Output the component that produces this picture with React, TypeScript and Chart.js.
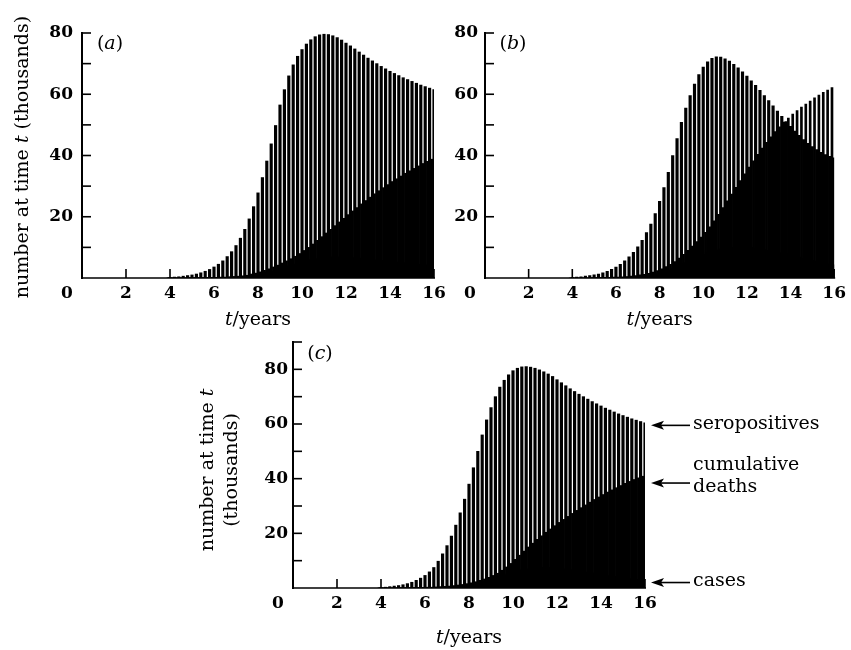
import React, { useEffect, useRef } from "react";
import { Chart, registerables } from "chart.js";

Chart.register(...registerables);

// ---------- data ----------
const YEARS = [
  4.0, 4.2, 4.4, 4.6, 4.8, 5.0, 5.2, 5.4, 5.6, 5.8,
  6.0, 6.2, 6.4, 6.6, 6.8, 7.0, 7.2, 7.4, 7.6, 7.8,
  8.0, 8.2, 8.4, 8.6, 8.8, 9.0, 9.2, 9.4, 9.6, 9.8,
  10.0, 10.2, 10.4, 10.6, 10.8, 11.0, 11.2, 11.4, 11.6, 11.8,
  12.0, 12.2, 12.4, 12.6, 12.8, 13.0, 13.2, 13.4, 13.6, 13.8,
  14.0, 14.2, 14.4, 14.6, 14.8, 15.0, 15.2, 15.4, 15.6, 15.8,
  16.0,
];

const X_TICK_LABELS = ["0", "2", "4", "6", "8", "10", "12", "14", "16"];
const Y_TICK_LABELS = ["20", "40", "60", "80"];

const SERO_A = [
  0.2, 0.3, 0.4, 0.6, 0.8, 1.0, 1.3, 1.7, 2.2, 2.8,
  3.6, 4.5, 5.6, 7.0, 8.6, 10.6, 13.0, 15.9, 19.3, 23.3,
  27.8, 32.8, 38.2, 43.8, 49.8, 56.5, 61.5, 66.0, 69.6, 72.4,
  74.6, 76.4, 77.8, 78.8, 79.4, 79.6, 79.5, 79.1, 78.5, 77.7,
  76.7, 75.8, 74.8, 73.8, 72.8, 71.8, 70.9, 70.0, 69.1, 68.3,
  67.5, 66.8, 66.1, 65.4, 64.8, 64.2, 63.6, 63.0, 62.5, 62.0,
  61.5,
];
const DEATHS_A = [
  0, 0, 0, 0, 0, 0.1, 0.1, 0.1, 0.1, 0.2,
  0.2, 0.2, 0.3, 0.3, 0.4, 0.5, 0.6, 0.7, 0.9, 1.3,
  1.6, 2.0, 2.5, 3.0, 3.6, 4.2, 4.9, 5.6, 6.3, 7.1,
  8.0, 9.0, 10.0, 11.1, 12.3, 13.5, 14.7, 15.9, 17.1, 18.3,
  19.5, 20.7, 21.9, 23.0, 24.2, 25.3, 26.4, 27.5, 28.5, 29.5,
  30.5, 31.5, 32.4, 33.3, 34.2, 35.0, 35.8, 36.6, 37.4, 38.1,
  38.8,
];
const CASES_A = [
  0, 0, 0, 0, 0, 0, 0, 0, 0.1, 0.1,
  0.1, 0.1, 0.2, 0.2, 0.3, 0.4, 0.5, 0.6, 0.8, 1.0,
  1.2, 1.5, 1.8, 2.2, 2.6, 3.0, 3.5, 4.0, 4.4, 4.9,
  5.3, 5.7, 6.0, 6.3, 6.5, 6.7, 6.8, 6.9, 6.9, 6.9,
  6.8, 6.7, 6.6, 6.5, 6.3, 6.2, 6.0, 5.9, 5.7, 5.6,
  5.4, 5.3, 5.1, 5.0, 4.8, 4.7, 4.5, 4.4, 4.3, 4.1,
  4.0,
];

const SERO_B = [
  0.2, 0.3, 0.4, 0.6, 0.8, 1.0, 1.3, 1.7, 2.2, 2.8,
  3.6, 4.5, 5.6, 6.9, 8.4, 10.2, 12.3, 14.8, 17.6, 21.0,
  25.0, 29.5, 34.5, 40.0, 45.5, 50.8, 55.5, 59.6, 63.3, 66.4,
  68.9, 70.6, 71.7, 72.2, 72.1, 71.6, 70.8, 69.8, 68.6, 67.3,
  65.9, 64.4, 62.9, 61.3, 59.6, 57.9, 56.2, 54.5, 52.8, 51.1,
  49.5, 48.0, 46.6, 45.2, 44.0, 42.9, 41.9, 41.0, 40.3, 39.7,
  39.2,
];
const DEATHS_B = [
  0, 0, 0, 0, 0, 0.1, 0.1, 0.1, 0.2, 0.2,
  0.3, 0.3, 0.4, 0.5, 0.6, 0.8, 1.0, 1.2, 1.5, 1.9,
  2.4, 3.0, 3.7, 4.5, 5.4, 6.5, 7.7, 9.0, 10.4, 11.9,
  13.4, 14.9, 16.7, 18.7, 20.8, 23.0, 25.2, 27.4, 29.6, 31.8,
  34.0, 36.2, 38.3, 40.4, 42.4, 44.3, 46.1, 47.8, 49.4, 50.9,
  52.2, 53.5, 54.7, 55.8, 56.8, 57.8, 58.8, 59.7, 60.6, 61.4,
  62.2,
];
const CASES_B = [
  0, 0, 0, 0, 0, 0, 0, 0, 0.1, 0.1,
  0.1, 0.2, 0.2, 0.3, 0.4, 0.5, 0.7, 0.9, 1.1, 1.4,
  1.7, 2.1, 2.6, 3.1, 3.7, 4.3, 5.0, 5.7, 6.4, 7.1,
  7.7, 8.3, 8.8, 9.2, 9.5, 9.8, 10.0, 10.1, 10.2, 10.2,
  10.1, 10.0, 9.8, 9.6, 9.3, 9.0, 8.7, 8.4, 8.1, 7.8,
  7.4, 7.1, 6.8, 6.4, 6.1, 5.8, 5.5, 5.2, 4.9, 4.6,
  4.3,
];

const SERO_C = [
  0.2, 0.3, 0.5, 0.7, 0.9, 1.2, 1.6, 2.1, 2.8, 3.6,
  4.6, 5.9, 7.5, 9.8, 12.5, 15.5, 19.0, 23.0, 27.5, 32.5,
  38.0, 44.0, 50.0, 56.0, 61.5, 66.0, 70.0, 73.5, 76.0, 78.0,
  79.5, 80.4, 80.9, 81.0, 80.8, 80.4, 79.8, 79.1, 78.3, 77.4,
  76.2, 75.1, 74.0, 72.9, 71.9, 70.9, 70.0, 69.1, 68.2, 67.4,
  66.6, 65.8, 65.1, 64.4, 63.7, 63.1, 62.5, 61.9, 61.4, 60.9,
  60.4,
];
const DEATHS_C = [
  0, 0, 0, 0, 0, 0.1, 0.1, 0.1, 0.1, 0.2,
  0.2, 0.3, 0.3, 0.4, 0.5, 0.6, 0.7, 0.9, 1.1, 1.3,
  1.6, 1.9, 2.3, 2.8, 3.3, 3.9, 4.6, 5.4, 6.5, 7.7,
  9.0, 10.5, 12.0, 13.5, 15.0, 16.4, 17.8, 19.1, 20.4, 21.6,
  22.8, 24.0, 25.1, 26.2, 27.3, 28.4, 29.4, 30.4, 31.4, 32.4,
  33.3, 34.2, 35.1, 35.9, 36.7, 37.5, 38.3, 39.0, 39.7, 40.3,
  40.9,
];
const CASES_C = [
  0, 0, 0, 0, 0, 0, 0, 0, 0.1, 0.1,
  0.1, 0.1, 0.2, 0.2, 0.3, 0.4, 0.5, 0.6, 0.8, 1.0,
  1.3, 1.6, 2.0, 2.4, 2.9, 3.4, 3.9, 4.4, 4.9, 5.4,
  5.8, 6.2, 6.6, 6.9, 7.1, 7.3, 7.4, 7.5, 7.5, 7.4,
  7.3, 7.1, 6.9, 6.7, 6.5, 6.2, 6.0, 5.7, 5.5, 5.2,
  5.0, 4.7, 4.5, 4.3, 4.0, 3.8, 3.6, 3.4, 3.2, 3.0,
  2.8,
];

const SERIES_NAMES = ["seropositives", "cumulative deaths", "cases"];
// values at which the annotation arrows of panel (c) point
const ARROW_VALUES = [59.5, 38.4, 2];

// ---------- styling / layout ----------
const INK = "#000";
const FONT = "'DejaVu Serif', 'Liberation Serif', serif";
const TICK_FONT_SIZE = 17;
const TEXT_SIZE = 19;
const HALF_STEP = 0.1;
const AXIS_W = 50;
const AXIS_H = 30;
const PAGE_W = 851;
const PAGE_H = 650;

type Seg = { t: string; italic?: boolean };

type PanelSpec = {
  key: string;
  letter: string;
  sero: number[];
  deaths: number[];
  cases: number[];
  yMax: number;
  area: { left: number; right: number; top: number; bottom: number };
  yLabelPad: number;
  letterPos: [number, number];
  yTitle: { x: number; y: number; segs: Seg[] }[];
  xTitleY: number;
  arrows: boolean;
};

const PANELS: PanelSpec[] = [
  {
    key: "a",
    letter: "a",
    sero: SERO_A,
    deaths: DEATHS_A,
    cases: CASES_A,
    yMax: 80,
    area: { left: 82, right: 434, top: 33, bottom: 278 },
    yLabelPad: 9,
    letterPos: [110, 44],
    yTitle: [
      {
        x: 23,
        y: 157,
        segs: [{ t: "number at time " }, { t: "t", italic: true }, { t: " (thousands)" }],
      },
    ],
    xTitleY: 320,
    arrows: false,
  },
  {
    key: "b",
    letter: "b",
    sero: SERO_B,
    deaths: DEATHS_B,
    cases: CASES_B,
    yMax: 80,
    area: { left: 485, right: 838, top: 33, bottom: 278 },
    yLabelPad: 7,
    letterPos: [513, 44],
    yTitle: [],
    xTitleY: 320,
    arrows: false,
  },
  {
    key: "c",
    letter: "c",
    sero: SERO_C,
    deaths: DEATHS_C,
    cases: CASES_C,
    yMax: 90,
    area: { left: 293, right: 645, top: 342, bottom: 588 },
    yLabelPad: 5,
    letterPos: [320, 354],
    yTitle: [
      { x: 208, y: 470, segs: [{ t: "number at time " }, { t: "t", italic: true }] },
      { x: 232, y: 470, segs: [{ t: "(thousands)" }] },
    ],
    xTitleY: 638,
    arrows: true,
  },
];

function fontFor(seg: Seg, size: number, bold = false) {
  return `${seg.italic ? "italic " : ""}${bold ? "bold " : ""}${size}px ${FONT}`;
}

function drawRich(ctx: CanvasRenderingContext2D, segs: Seg[], cx: number, cy: number, size: number, align: "center" | "left" = "center") {
  let total = 0;
  const widths = segs.map((s) => {
    ctx.font = fontFor(s, size);
    const w = ctx.measureText(s.t).width;
    total += w;
    return w;
  });
  let x = align === "center" ? cx - total / 2 : cx;
  ctx.textAlign = "left";
  ctx.textBaseline = "middle";
  segs.forEach((s, i) => {
    ctx.font = fontFor(s, size);
    ctx.fillText(s.t, x, cy);
    x += widths[i];
  });
}

function line(ctx: CanvasRenderingContext2D, x1: number, y1: number, x2: number, y2: number) {
  ctx.beginPath();
  ctx.moveTo(x1, y1);
  ctx.lineTo(x2, y2);
  ctx.stroke();
}

function decorPlugin(p: PanelSpec) {
  return {
    id: "decor_" + p.key,
    afterDatasetsDraw(chart: any) {
      const ctx: CanvasRenderingContext2D = chart.ctx;
      const xs = chart.scales.x;
      const ys = chart.scales.y;
      const x0 = xs.getPixelForValue(0);
      const x16 = xs.getPixelForValue(16);
      const y0 = ys.getPixelForValue(0);
      const yTop = ys.getPixelForValue(p.yMax);
      ctx.save();
      ctx.strokeStyle = INK;
      ctx.fillStyle = INK;
      ctx.lineCap = "butt";

      // y axis with inward ticks
      ctx.lineWidth = 2;
      line(ctx, x0, y0 + 1, x0, yTop - 1);
      ctx.lineWidth = 1.6;
      for (let v = 10; v <= p.yMax; v += 10) {
        const py = ys.getPixelForValue(v);
        line(ctx, x0, py, x0 + 9, py);
      }
      // x axis with inward ticks
      line(ctx, x0, y0, x16 + 1, y0);
      for (let v = 2; v <= 16; v += 2) {
        const px = xs.getPixelForValue(v);
        line(ctx, px, y0, px, y0 - 9);
      }

      // origin label
      ctx.font = `bold ${TICK_FONT_SIZE}px ${FONT}`;
      ctx.textAlign = "center";
      ctx.textBaseline = "middle";
      ctx.fillText(X_TICK_LABELS[0], x0 - 15, y0 + 16);

      // panel letter
      drawRich(ctx, [{ t: "(" }, { t: p.letter, italic: true }, { t: ")" }], p.letterPos[0], p.letterPos[1], TEXT_SIZE);

      // x title
      drawRich(ctx, [{ t: "t", italic: true }, { t: "/years" }], (x0 + x16) / 2, p.xTitleY, TEXT_SIZE);

      // y title
      p.yTitle.forEach((ln) => {
        ctx.save();
        ctx.translate(ln.x, ln.y);
        ctx.rotate(-Math.PI / 2);
        drawRich(ctx, ln.segs, 0, 0, TEXT_SIZE);
        ctx.restore();
      });

      // arrows with series names
      if (p.arrows) {
        const tipX = x16 + 6;
        const endX = x16 + 45;
        const textX = x16 + 48;
        ARROW_VALUES.forEach((v, i) => {
          const ay = ys.getPixelForValue(v);
          ctx.lineWidth = 1.6;
          line(ctx, tipX + 8, ay, endX, ay);
          ctx.beginPath();
          ctx.moveTo(tipX, ay);
          ctx.lineTo(tipX + 13, ay - 4.5);
          ctx.lineTo(tipX + 10, ay);
          ctx.lineTo(tipX + 13, ay + 4.5);
          ctx.closePath();
          ctx.fill();
          const name = SERIES_NAMES[i];
          if (name === "cumulative deaths") {
            drawRich(ctx, [{ t: "cumulative" }], textX, ay - 18, TEXT_SIZE, "left");
            drawRich(ctx, [{ t: "deaths" }], textX, ay + 4, TEXT_SIZE, "left");
          } else {
            drawRich(ctx, [{ t: name }], textX, ay - 1, TEXT_SIZE, "left");
          }
        });
      }
      ctx.restore();
    },
  };
}

function makeChart(canvas: HTMLCanvasElement, p: PanelSpec) {
  const tickFont = { family: FONT, size: TICK_FONT_SIZE, weight: "bold" as const };
  return new Chart(canvas, {
    type: "bar",
    data: {
      datasets: [
        {
          label: SERIES_NAMES[2],
          data: YEARS.map((t, i) => ({ x: t, y: p.cases[i] })),
          backgroundColor: INK,
          barThickness: 5,
          grouped: false,
          order: 3,
        } as any,
        {
          label: SERIES_NAMES[1],
          data: YEARS.map((t, i) => ({ x: t - HALF_STEP, y: p.deaths[i] })),
          backgroundColor: INK,
          barThickness: 2.0,
          grouped: false,
          order: 2,
        } as any,
        {
          label: SERIES_NAMES[0],
          data: YEARS.map((t, i) => ({ x: t, y: p.sero[i] })),
          backgroundColor: INK,
          barThickness: 2.5,
          grouped: false,
          order: 1,
        } as any,
      ],
    },
    options: {
      responsive: false,
      animation: false,
      devicePixelRatio: 1,
      layout: {
        padding: {
          left: p.area.left - AXIS_W,
          right: PAGE_W - p.area.right,
          top: p.area.top,
          bottom: PAGE_H - p.area.bottom - AXIS_H,
        },
      },
      plugins: {
        legend: { display: false },
        tooltip: { enabled: false },
        title: { display: false },
      },
      scales: {
        x: {
          type: "linear",
          min: 0,
          max: 16,
          offset: false,
          grid: { display: false, drawTicks: false },
          border: { display: false },
          ticks: {
            stepSize: 2,
            autoSkip: false,
            maxRotation: 0,
            padding: 5,
            color: INK,
            font: tickFont,
            callback: (v: any) => {
              const s = String(v);
              return s !== X_TICK_LABELS[0] && X_TICK_LABELS.includes(s) ? s : "";
            },
          },
          afterFit: (s: any) => {
            s.height = AXIS_H;
          },
        },
        y: {
          type: "linear",
          min: 0,
          max: p.yMax,
          grid: { display: false, drawTicks: false },
          border: { display: false },
          ticks: {
            stepSize: 10,
            autoSkip: false,
            padding: p.yLabelPad,
            color: INK,
            font: tickFont,
            callback: (v: any) => {
              const s = String(v);
              return Y_TICK_LABELS.includes(s) ? s : "";
            },
          },
          afterFit: (s: any) => {
            s.width = AXIS_W;
          },
        },
      },
    } as any,
    plugins: [decorPlugin(p)],
  });
}

export default function App() {
  const refA = useRef<HTMLCanvasElement>(null);
  const refB = useRef<HTMLCanvasElement>(null);
  const refC = useRef<HTMLCanvasElement>(null);
  useEffect(() => {
    const refs = [refA, refB, refC];
    const charts = PANELS.map((p, i) => makeChart(refs[i].current as HTMLCanvasElement, p));
    return () => charts.forEach((c) => c.destroy());
  }, []);
  const refs = [refA, refB, refC];
  return (
    <div style={{ position: "absolute", left: 0, top: 0, width: PAGE_W, height: PAGE_H, background: "#fff" }}>
      {PANELS.map((p, i) => (
        <canvas
          key={p.key}
          ref={refs[i]}
          width={PAGE_W}
          height={PAGE_H}
          style={{ position: "absolute", left: 0, top: 0, width: PAGE_W, height: PAGE_H }}
        />
      ))}
    </div>
  );
}
